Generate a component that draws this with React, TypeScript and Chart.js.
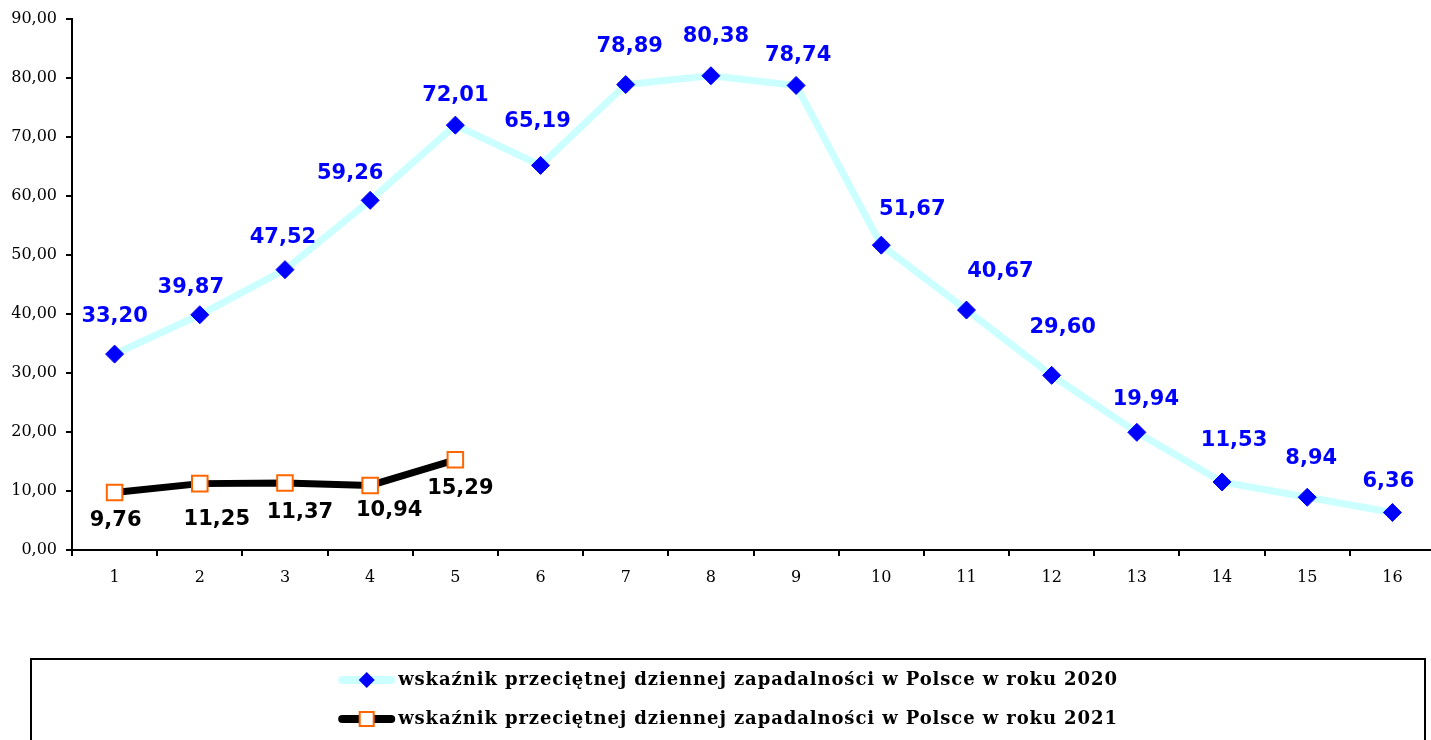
import React, { useEffect, useRef } from "react";
import { Chart, registerables } from "chart.js";

Chart.register(...registerables);

const categories = ["1", "2", "3", "4", "5", "6", "7", "8", "9", "10", "11", "12", "13", "14", "15", "16"];
const values2020 = [33.2, 39.87, 47.52, 59.26, 72.01, 65.19, 78.89, 80.38, 78.74, 51.67, 40.67, 29.6, 19.94, 11.53, 8.94, 6.36];
const values2021 = [9.76, 11.25, 11.37, 10.94, 15.29];
const label2020 = "wskaźnik przeciętnej dziennej zapadalności w Polsce w roku 2020";
const label2021 = "wskaźnik przeciętnej dziennej zapadalności w Polsce w roku 2021";

// label nudges (style only, relative to each point)
const nudge2020 = [[0, -39], [-9, -28], [-2, -33], [-20, -28], [0, -31], [-3, -45], [4, -39], [5, -40], [2, -31], [31, -37], [34, -40], [11, -49], [9, -34], [12, -42], [4, -40], [-4, -32]];
const nudge2021 = [[1, 27], [17, 35], [15, 29], [19, 24], [5, 28]];

const fmt = (v: number) => v.toFixed(2).replace(".", ",");

const dataLabelPlugin = {
  id: "dataLabels",
  afterDatasetsDraw(chart: any) {
    const ctx = chart.ctx;
    ctx.save();
    ctx.font = 'bold 21px "DejaVu Sans"';
    ctx.textAlign = "center";
    ctx.textBaseline = "middle";
    chart.data.datasets.forEach((ds: any, di: number) => {
      const meta = chart.getDatasetMeta(di);
      const nudges = di === 0 ? nudge2020 : nudge2021;
      ctx.fillStyle = di === 0 ? "#0000FF" : "#000000";
      meta.data.forEach((pt: any, i: number) => {
        const v = ds.data[i];
        if (v == null) return;
        const n = nudges[i] || [0, -30];
        ctx.fillText(fmt(v), pt.x + n[0], pt.y + n[1] + 1);
      });
    });
    ctx.restore();
  },
};

const boxLegendPlugin = {
  id: "boxLegend",
  afterDraw(chart: any) {
    const ctx = chart.ctx;
    ctx.save();
    ctx.lineWidth = 2;
    ctx.strokeStyle = "#000";
    ctx.strokeRect(31, 659, 1394, 120);
    ctx.font = 'bold 18px "DejaVu Serif"';
    try { (ctx as any).letterSpacing = "0.9px"; } catch (e) {}
    ctx.textBaseline = "middle";
    ctx.textAlign = "left";
    const center = 728;
    const rows = [680, 719];
    chart.data.datasets.forEach((ds: any, di: number) => {
      const y = rows[di];
      const tw = ctx.measureText(ds.label).width;
      const sw = 57;
      const total = sw + 3 + tw;
      const x0 = center - total / 2;
      ctx.lineCap = "round";
      ctx.lineWidth = 8;
      ctx.strokeStyle = ds.borderColor;
      ctx.beginPath();
      ctx.moveTo(x0 + 4, y);
      ctx.lineTo(x0 + sw - 4, y);
      ctx.stroke();
      const mx = x0 + sw / 2;
      if (di === 0) {
        ctx.fillStyle = "#0000FF";
        ctx.beginPath();
        ctx.moveTo(mx, y - 8);
        ctx.lineTo(mx + 8, y);
        ctx.lineTo(mx, y + 8);
        ctx.lineTo(mx - 8, y);
        ctx.closePath();
        ctx.fill();
      } else {
        ctx.fillStyle = "#fff";
        ctx.strokeStyle = "#FF6600";
        ctx.lineWidth = 2;
        ctx.lineCap = "butt";
        ctx.fillRect(mx - 7, y - 7, 14, 14);
        ctx.strokeRect(mx - 7, y - 7, 14, 14);
      }
      ctx.fillStyle = "#000";
      ctx.fillText(ds.label, x0 + sw + 3, y);
    });
    ctx.restore();
  },
};

export default function App() {
  const ref = useRef<HTMLCanvasElement | null>(null);
  useEffect(() => {
    if (!ref.current) return;
    const chart = new Chart(ref.current, {
      type: "line",
      data: {
        labels: categories,
        datasets: [
          {
            label: label2020,
            data: values2020,
            borderColor: "#CCFFFF",
            borderWidth: 7,
            tension: 0,
            pointStyle: "rectRot",
            pointRadius: 9,
            pointBackgroundColor: "#0000FF",
            pointBorderColor: "#0000FF",
            pointBorderWidth: 1,
          },
          {
            label: label2021,
            data: values2021,
            borderColor: "#000000",
            borderWidth: 7,
            tension: 0,
            pointStyle: "rect",
            pointRadius: 11,
            pointBackgroundColor: "#FFFFFF",
            pointBorderColor: "#FF6600",
            pointBorderWidth: 2,
          },
        ],
      },
      options: {
        responsive: false,
        animation: false,
        devicePixelRatio: 1,
        layout: { padding: { top: 19, right: 5, bottom: 150, left: 0 } },
        plugins: { legend: { display: false }, tooltip: { enabled: false } },
        scales: {
          x: {
            offset: true,
            grid: { offset: true, drawOnChartArea: false, drawTicks: true, tickLength: 6, color: "#000", lineWidth: 2 },
            border: { color: "#000", width: 2 },
            ticks: { color: "#000", font: { family: "DejaVu Serif", size: 16 }, padding: 12, maxRotation: 0 },
            afterFit: (s: any) => { s.height = 40; },
          },
          y: {
            min: 0,
            max: 90,
            ticks: { stepSize: 10, color: "#000", font: { family: "DejaVu Serif", size: 16 }, padding: 9, callback: (v: any) => fmt(Number(v)) },
            grid: { drawOnChartArea: false, drawTicks: true, tickLength: 6, color: "#000", lineWidth: 2 },
            border: { color: "#000", width: 2 },
            afterFit: (s: any) => { s.width = 72; },
          },
        },
      },
      plugins: [dataLabelPlugin, boxLegendPlugin],
    });
    return () => chart.destroy();
  }, []);
  return (
    <div style={{ position: "fixed", left: 0, top: 0, width: 1431, height: 740, overflow: "hidden", background: "#fff" }}>
      <canvas ref={ref} width={1448} height={740} style={{ display: "block" }} />
    </div>
  );
}
